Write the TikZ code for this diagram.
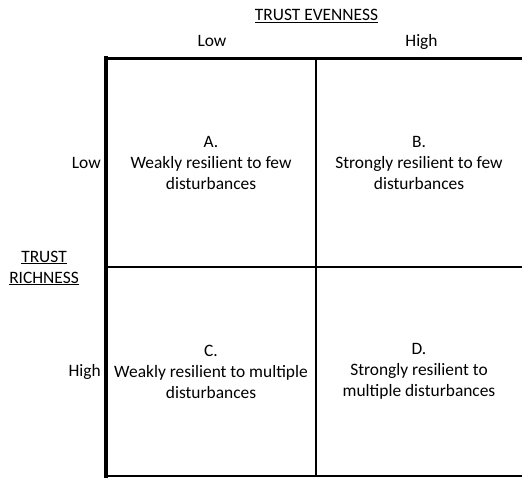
\documentclass[tikz,border=0pt]{standalone}
\usepackage{fontspec}
\setmainfont{Carlito}
\usepackage{tikz}
\tikzset{
	cell/.style = {align = center, inner sep = 0pt},
	lbl/.style = {inner sep = 0pt, anchor = base},
	grid/.style = {line width = 2pt, line cap = rect}
}

\begin{document}
\begin{tikzpicture}[x = 1pt, y = -1pt, font = \fontsize{17.4}{21}\selectfont]
			\useasboundingbox (0,0) rectangle (522,478);
			\coordinate (tl) at (106,58.5);
			\coordinate (tm) at (316,58.5);
			\coordinate (tr) at (522,58.5);
			\coordinate (ml) at (106,267.5);
			\coordinate (mr) at (522,267.5);
			\coordinate (bl) at (106,476);
			\coordinate (bm) at (316,476);
			\coordinate (br) at (522,476);
			\draw [grid] (ml) -- (mr);
			\draw [grid] (tm) -- (bm);
			\draw [grid] (bl) -- (br);
			\draw [grid, line width = 2.6pt] (tl) -- (tr);
			\draw [grid, line width = 4pt] (tl) -- (bl);
			\node (evenness) at (316.5,21) [lbl] {\underline{TRUST EVENNESS}};
			\node (elow) at (212,47) [lbl] {Low};
			\node (ehigh) at (421.5,47) [lbl] {High};
			\node (richness) at (44,268) [cell] {\underline{TRUST}\\\underline{RICHNESS}};
			\node (rlow) at (101,163) [cell, anchor = east] {Low};
			\node (rhigh) at (101,372) [cell, anchor = east] {High};
			\node (a) at (211,163) [cell] {A.\\Weakly resilient to few\\disturbances};
			\node (b) at (419,163) [cell] {B.\\Strongly resilient to few\\disturbances};
			\node (c) at (211,371.5) [cell] {C.\\Weakly resilient to multiple\\disturbances};
			\node (d) at (419,371.5) [cell] {D.\\Strongly resilient to\\multiple disturbances};
			\end{tikzpicture}
\end{document}
